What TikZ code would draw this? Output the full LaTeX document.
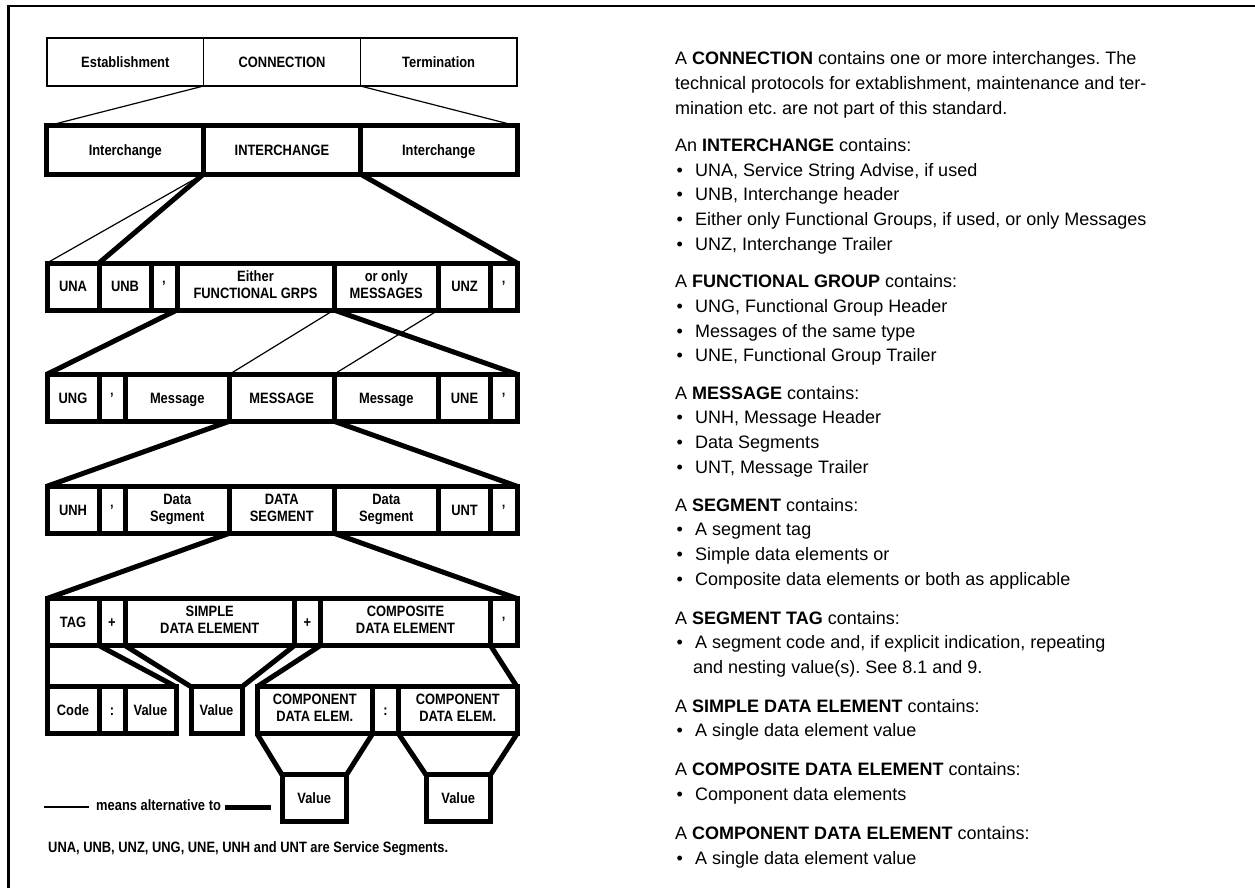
\documentclass[tikz,border=0pt]{standalone}
\usepackage{fontspec}
\setmainfont{Liberation Sans}
\newfontfamily\lblfont[FakeStretch=0.86]{Liberation Sans}
\frenchspacing
\newcommand{\itm}[1]{\makebox[20pt][l]{\hspace*{1.5pt}\textbullet}#1}
\newcommand{\lstrut}{\rule[-4pt]{0pt}{18.7pt}}
\tikzset{
	cell/.style={draw, line width=5pt, inner sep=0pt, outer sep=0pt, minimum height=47pt, align=center, font=\lblfont\bfseries\fontsize{15}{17}\selectfont, execute at begin node=\lstrut, execute at end node=\lstrut},
	thincell/.style={cell, line width=1.3pt, minimum height=48pt},
	lightline/.style={line width=1.2pt},
	heavy/.style={line width=5pt},
	lbl/.style={inner sep=0pt, anchor=base west, font=\lblfont\bfseries\fontsize{15}{17}\selectfont},
	para/.style={inner sep=0pt, anchor=base west, align=left, font=\fontsize{18}{24.6}\selectfont},
}
\begin{document}
\begin{tikzpicture}[x=1pt, y=-1pt]
	\useasboundingbox (0,0) rectangle (1255,888);
	\draw[line width=2.5pt] (8.5,888) -- (8.5,6) -- (1255,6);
	% connection
	\node[thincell, minimum width=156.67] (estab) at (125.33,62) {Establishment};
	\node[thincell, minimum width=156.67] (conn) at (282,62) {CONNECTION};
	\node[thincell, minimum width=156.67] (term) at (438.67,62) {Termination};
	% interchange
	\node[cell, minimum height=48, minimum width=156.67] (ich1) at (125.33,150) {Interchange};
	\node[cell, minimum height=48, minimum width=156.67] (ich2) at (282,150) {INTERCHANGE};
	\node[cell, minimum height=48, minimum width=156.67] (ich3) at (438.67,150) {Interchange};
	\draw[lightline] (conn.south west) -- (ich1.north west);
	\draw[lightline] (conn.south east) -- (ich3.north east);
	% interchange contents
	\node[cell, minimum width=52] (una) at (73,286.5) {UNA};
	\node[cell, minimum width=52] (unb) at (125,286.5) {UNB};
	\node[cell, minimum width=26] (unbq) at (164,286.5) {’};
	\node[cell, minimum width=157] (either) at (255.5,286.5) {Either\\FUNCTIONAL GRPS};
	\node[cell, minimum width=104.5] (only) at (386.25,286.5) {or only\\MESSAGES};
	\node[cell, minimum width=52] (unz) at (464.5,286.5) {UNZ};
	\node[cell, minimum width=26.5] (unzq) at (503.75,286.5) {’};
	\draw[lightline] (ich2.south west) -- (una.north west);
	\draw[heavy] (ich2.south west) -- (unb.north west);
	\draw[heavy] (ich2.south east) -- (unzq.north east);
	% functional group
	\node[cell, minimum width=52] (ung) at (73,397.75) {UNG};
	\node[cell, minimum width=26] (ungq) at (112,397.75) {’};
	\node[cell, minimum width=104.5] (msgl) at (177.25,397.75) {Message};
	\node[cell, minimum width=104.5] (msg) at (281.75,397.75) {MESSAGE};
	\node[cell, minimum width=104.5] (msgr) at (386.25,397.75) {Message};
	\node[cell, minimum width=52] (une) at (464.5,397.75) {UNE};
	\node[cell, minimum width=26.5] (uneq) at (503.75,397.75) {’};
	\draw[heavy] (either.south west) -- (ung.north west);
	\draw[heavy] (either.south east) -- (uneq.north east);
	\draw[lightline] (only.south west) -- (msg.north west);
	\draw[lightline] (only.south east) -- (msg.north east);
	% message
	\node[cell, minimum width=52] (unh) at (73,509.75) {UNH};
	\node[cell, minimum width=26] (unhq) at (112,509.75) {’};
	\node[cell, minimum width=104.5] (segl) at (177.25,509.75) {Data\\Segment};
	\node[cell, minimum width=104.5] (seg) at (281.75,509.75) {DATA\\SEGMENT};
	\node[cell, minimum width=104.5] (segr) at (386.25,509.75) {Data\\Segment};
	\node[cell, minimum width=52] (unt) at (464.5,509.75) {UNT};
	\node[cell, minimum width=26.5] (untq) at (503.75,509.75) {’};
	\draw[heavy] (msg.south west) -- (unh.north west);
	\draw[heavy] (msg.south east) -- (untq.north east);
	% segment
	\node[cell, minimum width=52] (tag) at (73,622) {TAG};
	\node[cell, minimum width=26] (plusa) at (112,622) {+};
	\node[cell, minimum width=169.5] (simple) at (209.75,622) {SIMPLE\\DATA ELEMENT};
	\node[cell, minimum width=26] (plusb) at (307.5,622) {+};
	\node[cell, minimum width=170] (compo) at (405.5,622) {COMPOSITE\\DATA ELEMENT};
	\node[cell, minimum width=26.5] (segq) at (503.75,622) {’};
	\draw[heavy] (seg.south west) -- (tag.north west);
	\draw[heavy] (seg.south east) -- (segq.north east);
	% elements
	\node[cell, minimum width=52] (code) at (73,710.25) {Code};
	\node[cell, minimum width=26] (colona) at (112,710.25) {:};
	\node[cell, minimum width=51] (tagval) at (150.5,710.25) {Value};
	\node[cell, minimum width=51] (simval) at (216.5,710.25) {Value};
	\node[cell, minimum width=115.5] (compa) at (314.75,710.25) {COMPONENT\\DATA ELEM.};
	\node[cell, minimum width=26] (colonb) at (385.5,710.25) {:};
	\node[cell, minimum width=118.5] (compb) at (457.75,710.25) {COMPONENT\\DATA ELEM.};
	\draw[heavy] (tag.south west) -- (code.north west);
	\draw[heavy] (tag.south east) -- (tagval.north east);
	\draw[heavy] (simple.south west) -- (simval.north west);
	\draw[heavy] (simple.south east) -- (simval.north east);
	\draw[heavy] (compo.south west) -- (compa.north west);
	\draw[heavy] (compo.south east) -- (compb.north east);
	% component values
	\node[cell, minimum width=64.5] (vala) at (314.25,798.25) {Value};
	\node[cell, minimum width=64.5] (valb) at (458.25,798.25) {Value};
	\draw[heavy] (compa.south west) -- (vala.north west);
	\draw[heavy] (compa.south east) -- (vala.north east);
	\draw[heavy] (compb.south west) -- (valb.north west);
	\draw[heavy] (compb.south east) -- (valb.north east);
	% legend
	\node[lbl] (alt) at (96,810) {means alternative to};
	\coordinate (la) at (44,807);
	\coordinate (lb) at (89,807);
	\coordinate (lc) at (225,807);
	\coordinate (ld) at (271,807);
	\draw[lightline] (la) -- (lb);
	\draw[heavy] (lc) -- (ld);
	\node[lbl] (note) at (48,852.5) {UNA, UNB, UNZ, UNG, UNE, UNH and UNT are Service Segments.};
	% explanations (anchored at the baseline of the last line)
	\node[para] (pconn) at (675,114) {A \textbf{CONNECTION} contains one or more interchanges. The\\technical protocols for extablishment, maintenance and ter-\\mination etc. are not part of this standard.};
	\node[para] (pich) at (675,250) {An \textbf{INTERCHANGE} contains:\\\itm{UNA, Service String Advise, if used}\\\itm{UNB, Interchange header}\\\itm{Either only Functional Groups, if used, or only Messages}\\\itm{UNZ, Interchange Trailer}};
	\node[para] (pgrp) at (675,361.7) {A \textbf{FUNCTIONAL GROUP} contains:\\\itm{UNG, Functional Group Header}\\\itm{Messages of the same type}\\\itm{UNE, Functional Group Trailer}};
	\node[para] (pmsg) at (675,473) {A \textbf{MESSAGE} contains:\\\itm{UNH, Message Header}\\\itm{Data Segments}\\\itm{UNT, Message Trailer}};
	\node[para] (pseg) at (675,585) {A \textbf{SEGMENT} contains:\\\itm{A segment tag}\\\itm{Simple data elements or}\\\itm{Composite data elements or both as applicable}};
	\node[para] (ptag) at (675,673.3) {A \textbf{SEGMENT TAG} contains:\\\itm{A segment code and, if explicit indication, repeating}\\\hspace*{18pt}and nesting value(s). See 8.1 and 9.};
	\node[para] (psim) at (675,736.7) {A \textbf{SIMPLE DATA ELEMENT} contains:\\\itm{A single data element value}};
	\node[para] (pcmp) at (675,800) {A \textbf{COMPOSITE DATA ELEMENT} contains:\\\itm{Component data elements}};
	\node[para] (pcde) at (675,864.3) {A \textbf{COMPONENT DATA ELEMENT} contains:\\\itm{A single data element value}};
\end{tikzpicture}
\end{document}
